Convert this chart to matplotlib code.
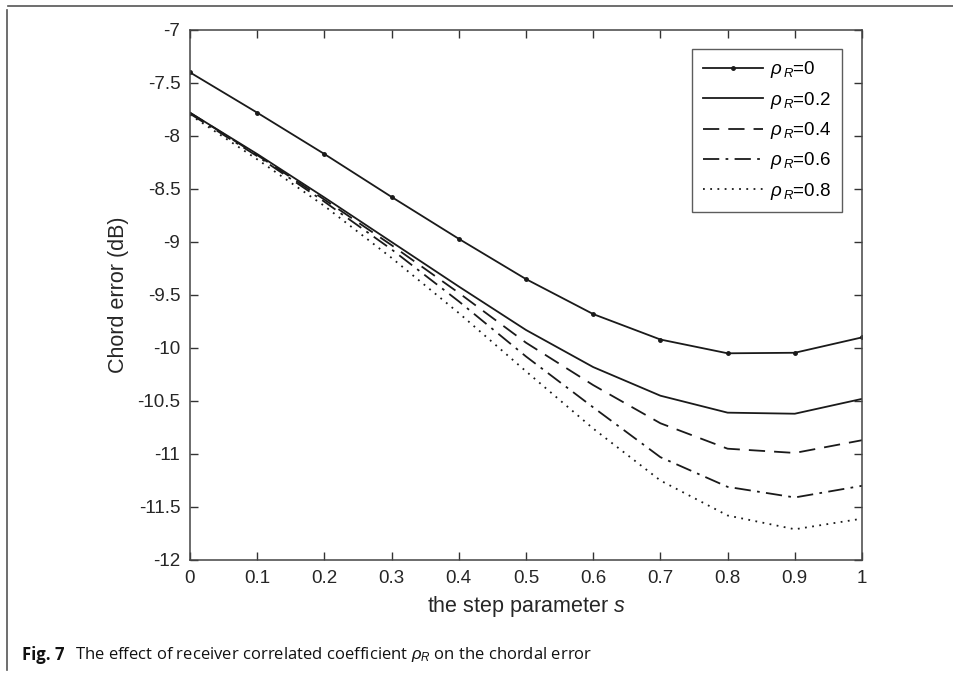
import matplotlib
matplotlib.use("Agg")
import matplotlib.pyplot as plt
from matplotlib.lines import Line2D

s = [0, 0.1, 0.2, 0.3, 0.4, 0.5, 0.6, 0.7, 0.8, 0.9, 1.0]
rho0 = [-7.40, -7.78, -8.17, -8.575, -8.97, -9.35, -9.68, -9.92, -10.05, -10.045, -9.90]
rho02 = [-7.78, -8.17, -8.58, -9.00, -9.42, -9.83, -10.18, -10.45, -10.61, -10.62, -10.48]
rho04 = [-7.78, -8.18, -8.60, -9.03, -9.48, -9.95, -10.35, -10.71, -10.95, -10.99, -10.87]
rho06 = [-7.79, -8.19, -8.62, -9.07, -9.56, -10.08, -10.56, -11.03, -11.31, -11.41, -11.30]
rho08 = [-7.80, -8.22, -8.66, -9.15, -9.67, -10.22, -10.76, -11.25, -11.58, -11.71, -11.61]
labels = [r'$\rho_{\,R}$=0', r'$\rho_{\,R}$=0.2', r'$\rho_{\,R}$=0.4', r'$\rho_{\,R}$=0.6', r'$\rho_{\,R}$=0.8']
xticks = [0, 0.1, 0.2, 0.3, 0.4, 0.5, 0.6, 0.7, 0.8, 0.9, 1]
xticklabels = ['0', '0.1', '0.2', '0.3', '0.4', '0.5', '0.6', '0.7', '0.8', '0.9', '1']
yticks = [-12, -11.5, -11, -10.5, -10, -9.5, -9, -8.5, -8, -7.5, -7]
yticklabels = ['-12', '-11.5', '-11', '-10.5', '-10', '-9.5', '-9', '-8.5', '-8', '-7.5', '-7']
caption_bold = 'Fig. 7'
caption_text = r'The effect of receiver correlated coefficient $\rho_R$ on the chordal error'

plt.rcParams['font.family'] = ['Liberation Sans', 'DejaVu Sans']
plt.rcParams['mathtext.fontset'] = 'custom'
plt.rcParams['mathtext.it'] = 'Liberation Sans:italic'
plt.rcParams['mathtext.rm'] = 'Liberation Sans'

W, H = 954, 673
fig = plt.figure(figsize=(W / 100, H / 100), dpi=100)
ax = fig.add_axes([190 / W, 1 - 560 / H, 672 / W, 530 / H])

col = '#1a1a1a'
ax.plot(s, rho0, '-', color=col, lw=1.3, marker='.', markersize=5, label=labels[0])
ax.plot(s, rho02, '-', color=col, lw=1.3, label=labels[1])
ax.plot(s, rho04, color=col, lw=1.3, linestyle=(0, (9, 5)), label=labels[2])
ax.plot(s, rho06, color=col, lw=1.3, linestyle=(0, (9, 3.5, 1.5, 3.5)), label=labels[3])
ax.plot(s, rho08, color=col, lw=1.3, linestyle=(0, (1, 3)), label=labels[4])

ax.set_xlim(0, 1)
ax.set_ylim(-12, -7)
ax.set_xticks(xticks)
ax.set_xticklabels(xticklabels)
ax.set_yticks(yticks)
ax.set_yticklabels(yticklabels)
ax.tick_params(direction='in', length=6, width=1, colors='#333333', labelsize=13.5,
               top=True, right=True, labelcolor='#262626', pad=7)
for sp in ax.spines.values():
    sp.set_color('#444444')
    sp.set_linewidth(1.1)

ax.set_xlabel(r'the step parameter $s$', fontsize=15.5, color='#262626', labelpad=5)
ax.set_ylabel('Chord error (dB)', fontsize=15.5, color='#262626', labelpad=6)

leg = ax.legend(loc='upper right', bbox_to_anchor=(842 / W, 1 - 49 / H), bbox_transform=fig.transFigure,
                fontsize=13.5, frameon=True, fancybox=False, edgecolor='#333333',
                handlelength=3.2, labelspacing=0.5, borderpad=0.55, handletextpad=0.4,
                borderaxespad=0)
leg.get_frame().set_linewidth(1.0)

# outer frame (page panel)
fig.add_artist(Line2D([8 / W, 1.0], [1 - 6 / H, 1 - 6 / H], transform=fig.transFigure,
                      color='#555555', lw=1.2))
fig.add_artist(Line2D([7 / W, 7 / W], [1 - 670 / H, 1 - 10 / H], transform=fig.transFigure,
                      color='#555555', lw=1.2))

fig.text(22 / W, 1 - 655 / H, caption_bold, fontsize=12, fontweight='bold',
         family='Open Sans', va='center', ha='left', color='#111111')
fig.text(75 / W, 1 - 655 / H, caption_text, fontsize=12,
         family='Open Sans', va='center', ha='left', color='#111111')

fig.savefig('out.png', dpi=100)
